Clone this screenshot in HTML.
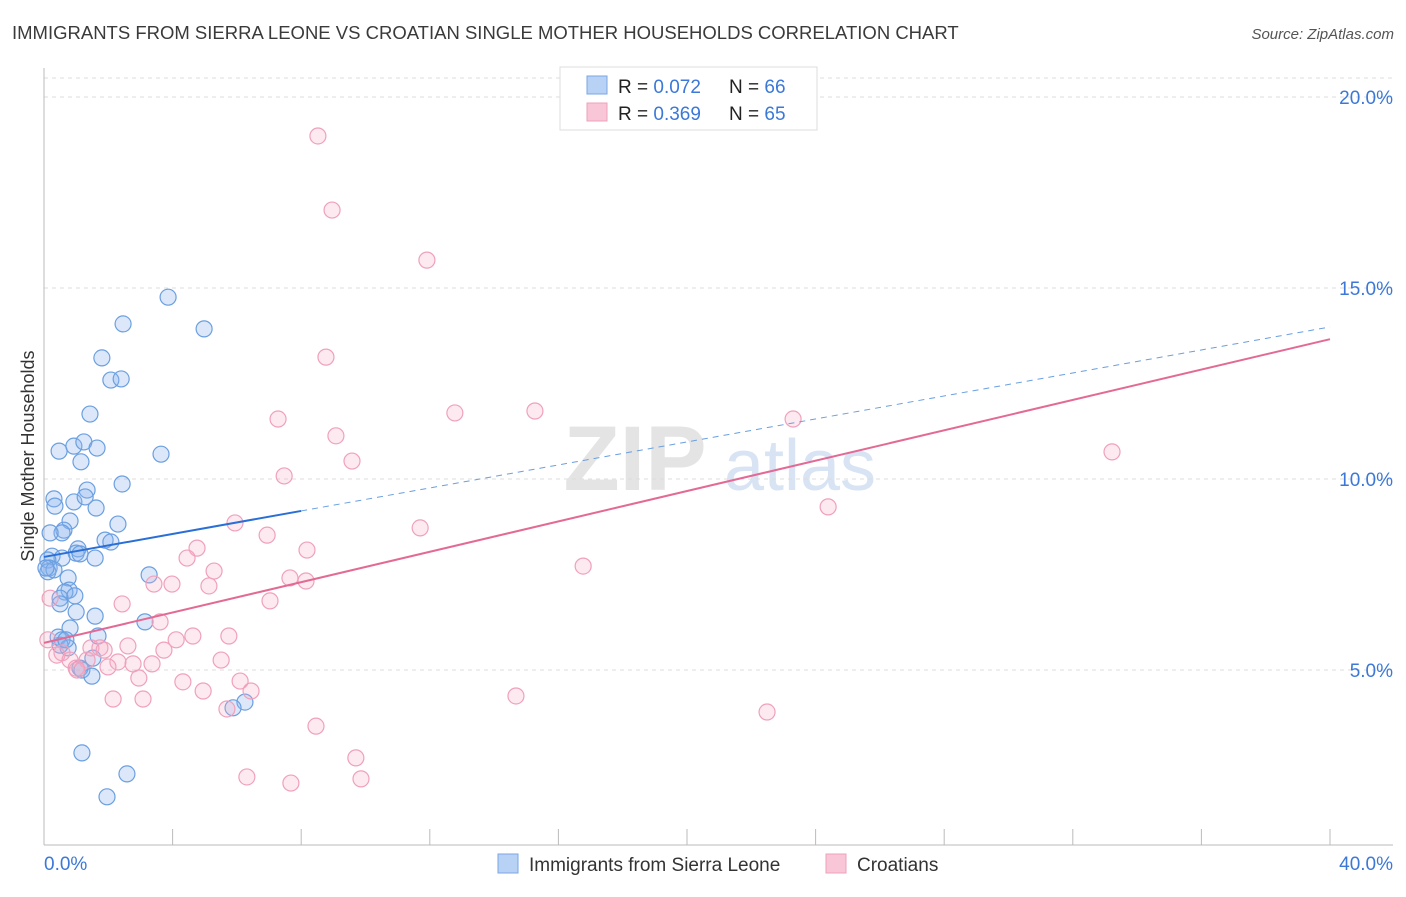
<!DOCTYPE html>
<html><head><meta charset="utf-8"><style>
body{margin:0;background:#fff;font-family:"Liberation Sans",sans-serif;}
svg text{font-family:"Liberation Sans",sans-serif;}
</style></head><body>
<svg id="chart" width="1406" height="892">
<text x="12" y="39" font-size="18.5" fill="#3a3a3a">IMMIGRANTS FROM SIERRA LEONE VS CROATIAN SINGLE MOTHER HOUSEHOLDS CORRELATION CHART</text>
<text x="1394" y="39" font-size="15" fill="#555" font-style="italic" text-anchor="end">Source: ZipAtlas.com</text>
<g>
<text x="635" y="490" font-size="92" fill="#e4e4e4" font-family="Liberation Serif" text-anchor="middle" font-weight="bold">ZIP</text>
<text x="800" y="490" font-size="72" fill="#d8e4f4" text-anchor="middle">atlas</text>
</g>
<g id="grid"></g>
<g id="axes"></g>
<g id="pts"></g>
<g id="trends"></g>
<text x="34" y="456" font-size="18" fill="#333" text-anchor="middle" transform="rotate(-90 34 456)">Single Mother Households</text>
<g>
<rect x="560" y="67" width="257" height="63" fill="#fff" stroke="#ddd"/>
<rect x="587" y="76" width="20" height="18" fill="#b8d2f6" stroke="#7aa6e4"/>
<rect x="587" y="103" width="20" height="18" fill="#f8c6d6" stroke="#eea0ba"/>
<text x="618" y="93" font-size="19" fill="#222">R = <tspan fill="#3b78d8">0.072</tspan></text>
<text x="729" y="93" font-size="19" fill="#222">N = <tspan fill="#3b78d8">66</tspan></text>
<text x="618" y="120" font-size="19" fill="#222">R = <tspan fill="#3b78d8">0.369</tspan></text>
<text x="729" y="120" font-size="19" fill="#222">N = <tspan fill="#3b78d8">65</tspan></text>
</g>
<g>
<rect x="498" y="854" width="20" height="19" fill="#b8d2f6" stroke="#7aa6e4"/>
<text x="529" y="871" font-size="19" fill="#333">Immigrants from Sierra Leone</text>
<rect x="826" y="854" width="20" height="19" fill="#f8c6d6" stroke="#eea0ba"/>
<text x="857" y="871" font-size="19" fill="#333">Croatians</text>
</g>
</svg>
<script>
const blueX=[3.86,2.46,4.98,1.80,2.08,2.40,1.43,0.47,0.93,1.24,1.65,1.15,3.64,2.43,1.34,0.31,0.34,0.93,1.28,1.62,0.81,0.62,0.56,2.30,0.19,1.90,2.08,1.06,1.00,1.12,1.59,0.25,0.56,0.12,0.16,0.12,3.27,0.75,0.78,0.65,0.50,0.96,0.50,1.00,1.59,3.14,0.81,0.44,0.56,1.68,0.75,1.52,1.12,1.18,1.49,6.25,5.88,1.18,2.58,1.96,0.31,0.06,0.50,0.68];
const blueY=[14.76,14.06,13.93,13.17,12.59,12.62,11.70,10.73,10.86,10.97,10.81,10.45,10.65,9.87,9.71,9.48,9.29,9.40,9.53,9.24,8.90,8.66,8.59,8.82,8.59,8.40,8.35,8.17,8.06,8.04,7.93,7.98,7.93,7.88,7.67,7.57,7.49,7.41,7.09,7.04,6.88,6.94,6.73,6.52,6.41,6.26,6.10,5.86,5.79,5.89,5.58,5.31,5.05,5.00,4.84,4.16,4.01,2.83,2.28,1.68,7.62,7.67,5.65,5.79];
const pinkX=[8.52,8.96,11.91,8.77,7.28,12.78,15.27,23.30,9.08,33.22,9.58,7.47,24.39,5.94,11.70,6.94,4.76,8.18,4.45,5.29,16.77,7.65,8.15,3.98,3.42,5.13,7.03,2.43,3.61,4.63,5.75,4.11,2.61,1.46,1.74,3.73,0.56,0.40,0.81,1.34,5.51,3.36,2.77,2.30,1.99,1.00,1.03,2.95,4.32,6.10,4.95,6.44,14.68,2.15,3.08,5.69,22.49,8.46,9.70,6.31,7.68,9.86,0.19,0.12,1.87];
const pinkY=[18.98,17.04,15.73,13.19,11.57,11.73,11.78,11.57,11.13,10.71,10.47,10.08,9.27,8.85,8.72,8.53,8.19,8.14,7.93,7.59,7.72,7.41,7.33,7.25,7.25,7.20,6.81,6.73,6.26,5.89,5.89,5.79,5.63,5.58,5.58,5.52,5.45,5.39,5.26,5.26,5.26,5.16,5.16,5.21,5.08,5.05,5.00,4.79,4.69,4.71,4.45,4.45,4.32,4.24,4.24,3.98,3.90,3.53,2.70,2.20,2.04,2.15,6.88,5.79,5.52];
const yTicks=[5,10,15,20];
const yTickLabels=["5.0%","10.0%","15.0%","20.0%"];
const xTicks=[0,4,8,12,16,20,24,28,32,36,40];
const blueTrend=[7.96,13.98], blueSolidEnd=8;
const pinkTrend=[5.71,13.66];
const X=v=>44+v*32.15, Y=v=>861-v*38.2;
const NS="http://www.w3.org/2000/svg";
function mk(parent,tag,attrs){const e=document.createElementNS(NS,tag);for(const k in attrs)e.setAttribute(k,attrs[k]);document.getElementById(parent).appendChild(e);return e;}
yTicks.forEach((t,i)=>{
 const l=mk('grid','line',{x1:44,x2:1393,y1:Y(t),y2:Y(t),stroke:'#ddd','stroke-dasharray':'4,4'});
 
 
 const tx=mk('grid','text',{x:1393,y:Y(t)+7,'font-size':19,fill:'#3b78d8','text-anchor':'end'});
 tx.textContent=yTickLabels[i];
 
 
});
const topGrid=mk('grid','line',{x1:44,x2:1393,y1:78,y2:78,stroke:'#ddd','stroke-dasharray':'4,4'});


const ya=mk('axes','line',{x1:44,x2:44,y1:68,y2:845,stroke:'#bbb'});


const xa=mk('axes','line',{x1:44,x2:1393,y1:845,y2:845,stroke:'#bbb'});


xTicks.forEach(t=>{const l=mk('axes','line',{x1:X(t),x2:X(t),y1:829,y2:845,stroke:'#bbb'});
 
 });
const xl0=mk('axes','text',{x:44,y:870,'font-size':19,fill:'#3b78d8'});xl0.textContent='0.0%';


const xl1=mk('axes','text',{x:1393,y:870,'font-size':19,fill:'#3b78d8','text-anchor':'end'});xl1.textContent='40.0%';


blueX.forEach((v,i)=>{const c=mk('pts','circle',{cx:X(v),cy:Y(blueY[i]),r:8,fill:'rgba(140,180,240,0.3)',stroke:'#6a9fe0','stroke-width':1.2});
 
 });
pinkX.forEach((v,i)=>{const c=mk('pts','circle',{cx:X(v),cy:Y(pinkY[i]),r:8,fill:'rgba(245,170,195,0.25)',stroke:'#f0a0bc','stroke-width':1.2});
 
 });
const bAt=x=>blueTrend[0]+(blueTrend[1]-blueTrend[0])*x/40;
const b1=mk('trends','line',{x1:X(0),y1:Y(bAt(0)),x2:X(blueSolidEnd),y2:Y(bAt(blueSolidEnd)),stroke:'#2a6fd6','stroke-width':2});


const b2=mk('trends','line',{x1:X(blueSolidEnd),y1:Y(bAt(blueSolidEnd)),x2:X(40),y2:Y(bAt(40)),stroke:'#6a9fe0','stroke-width':1,'stroke-dasharray':'6,5'});


const p1=mk('trends','line',{x1:X(0),y1:Y(pinkTrend[0]),x2:X(40),y2:Y(pinkTrend[1]),stroke:'#e36a95','stroke-width':2});


</script>
</body></html>
